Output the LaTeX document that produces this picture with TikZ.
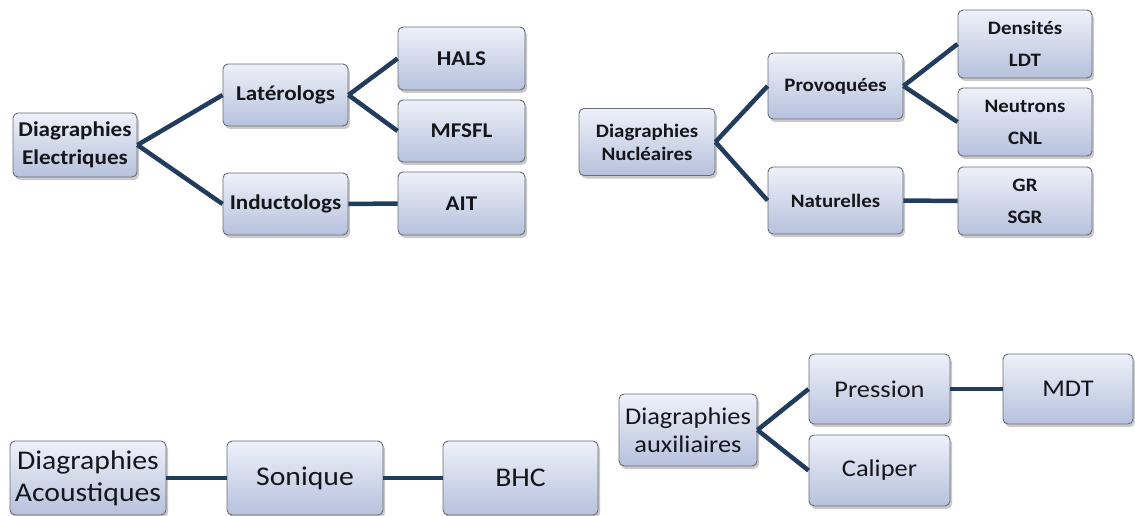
\documentclass[tikz,border=0pt]{standalone}
\usepackage{fontspec}
\setmainfont{Carlito}[FakeStretch=1.1]
\usetikzlibrary{shadows}
\definecolor{boxtop}{RGB}{238,241,249}
\definecolor{boxbot}{RGB}{182,193,221}
\definecolor{boxline}{RGB}{105,108,115}
\definecolor{conn}{RGB}{33,60,92}
\definecolor{ink}{RGB}{22,22,26}
\tikzset{
  box/.style={draw=boxline, line width=0.9pt, rounded corners=5pt,
    top color=boxtop, bottom color=boxbot, align=center, inner sep=0pt,
    text=ink,
    drop shadow={shadow xshift=2pt, shadow yshift=-3pt, opacity=0.35, fill=black!60}},
  tlfont/.style={font=\fontsize{21}{28}\selectfont\bfseries},
  trfont/.style={font=\fontsize{19}{23}\selectfont\bfseries},
  trpair/.style={font=\fontsize{19}{32}\selectfont\bfseries},
  blfont/.style={font=\fontsize{27}{32}\selectfont},
  brfont/.style={font=\fontsize{24}{28}\selectfont},
  wire/.style={draw=conn, line width=4.5pt},
}
\begin{document}
\begin{tikzpicture}[x=1pt,y=-1pt]
\useasboundingbox (0,0) rectangle (1135,516);
% ---------- Electriques ----------
\node[box,tlfont,minimum width=124pt,minimum height=64pt] (de) at (75,145) {Diagraphies\\Electriques};
\node[box,tlfont,minimum width=125pt,minimum height=62pt] (lat) at (285.5,95) {Latérologs};
\node[box,tlfont,minimum width=125pt,minimum height=62pt] (ind) at (285.5,204) {Inductologs};
\node[box,tlfont,minimum width=127pt,minimum height=63pt] (hals) at (461.5,58.5) {HALS};
\node[box,tlfont,minimum width=127pt,minimum height=62pt] (mfsfl) at (461.5,131) {MFSFL};
\node[box,tlfont,minimum width=127pt,minimum height=63pt] (ait) at (461.5,203.5) {AIT};
\draw[wire] (de.east) -- (lat.west);
\draw[wire] (de.east) -- (ind.west);
\draw[wire] (lat.east) -- (hals.west);
\draw[wire] (lat.east) -- (mfsfl.west);
\draw[wire] (ind.east) -- (ait.west);
% ---------- Nucleaires ----------
\node[box,trfont,minimum width=136pt,minimum height=67pt] (dn) at (647,142) {Diagraphies\\Nucléaires};
\node[box,trfont,minimum width=135pt,minimum height=66pt] (prov) at (835.5,86) {Provoquées};
\node[box,trfont,minimum width=135pt,minimum height=67pt] (nat) at (835.5,200.5) {Naturelles};
\node[box,trpair,minimum width=134pt,minimum height=68pt] (dens) at (1025,44) {Densités\\LDT};
\node[box,trpair,minimum width=134pt,minimum height=68pt] (neut) at (1025,122) {Neutrons\\CNL};
\node[box,trpair,minimum width=134pt,minimum height=68pt] (gr) at (1025,201) {GR\\SGR};
\draw[wire] (dn.east) -- (prov.west);
\draw[wire] (dn.east) -- (nat.west);
\draw[wire] (prov.east) -- (dens.west);
\draw[wire] (prov.east) -- (neut.west);
\draw[wire] (nat.east) -- (gr.west);
% ---------- Acoustiques ----------
\node[box,blfont,minimum width=156pt,minimum height=74pt] (da) at (88,478) {Diagraphies\\Acoustiques};
\node[box,blfont,minimum width=156pt,minimum height=74pt] (son) at (305,478) {Sonique};
\node[box,blfont,minimum width=155pt,minimum height=74pt] (bhc) at (520.5,478) {BHC};
\draw[wire] (da.east) -- (son.west);
\draw[wire] (son.east) -- (bhc.west);
% ---------- auxiliaires ----------
\node[box,brfont,minimum width=138pt,minimum height=72pt] (dx) at (688,430) {Diagraphies\\auxiliaires};
\node[box,brfont,minimum width=141pt,minimum height=70pt] (pres) at (879.5,389) {Pression};
\node[box,brfont,minimum width=141pt,minimum height=71pt] (cal) at (879.5,470.5) {Caliper};
\node[box,brfont,minimum width=130pt,minimum height=70pt] (mdt) at (1068,389) {MDT};
\draw[wire] (dx.east) -- (pres.west);
\draw[wire] (dx.east) -- (cal.west);
\draw[wire] (pres.east) -- (mdt.west);
\end{tikzpicture}
\end{document}
